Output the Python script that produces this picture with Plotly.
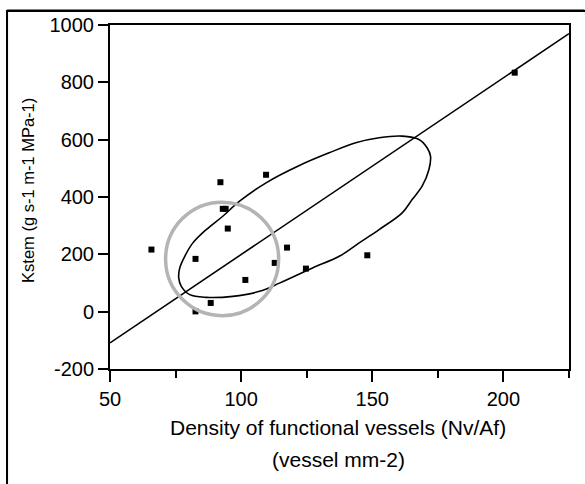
import plotly.graph_objects as go

# --- data ---
density = [65.8, 82.6, 82.6, 88.4, 92.1, 93.0, 94.1, 94.9, 101.6, 109.5, 112.8, 117.5, 124.7, 148.1, 204.3]
kstem = [216.6, 1.0, 184.1, 30.4, 451.6, 358.7, 358.7, 289.9, 110.7, 477.5, 170.1, 223.5, 150.2, 196.7, 833.7]

fit_x = [50, 225]
fit_y = [-109, 970]

# confidence contour (traced)
ell_x = [76.2, 76.6, 78.5, 81.6, 86.7, 93.0, 99.4, 109.5, 122.2, 133.6, 143.7, 152.6, 161.4, 167.8,
         170.9, 172.2, 171.6, 169.0, 165.2, 161.4, 152.6, 145.0, 137.4, 127.2, 114.6, 107.0, 96.8,
         86.7, 80.4, 77.2, 76.2]
ell_y = [117.7, 152.6, 193.2, 240.0, 286.4, 332.9, 385.3, 449.5, 509.9, 554.3, 589.2, 606.7, 612.3, 600.8,
         571.8, 542.4, 496.0, 437.6, 391.2, 344.7, 286.4, 240.0, 193.2, 152.6, 99.6, 70.9, 53.5,
         50.0, 59.4, 88.4, 117.7]

# highlighted group (grey circle), in data units
circle_x = [71.2, 114.3]
circle_y = [-14.0, 381.8]

x_ticks = [50, 100, 150, 200]
x_labels = ["50", "100", "150", "200"]
y_ticks = [-200, 0, 200, 400, 600, 800, 1000]
y_labels = ["-200", "0", "200", "400", "600", "800", "1000"]

FONT = "Arial, Liberation Sans, sans-serif"

fig = go.Figure()
fig.add_trace(go.Scatter(x=fit_x, y=fit_y, mode="lines",
                         line=dict(color="black", width=1.6), hoverinfo="skip"))
fig.add_trace(go.Scatter(x=ell_x, y=ell_y, mode="lines",
                         line=dict(color="black", width=1.6, shape="spline", smoothing=1.0),
                         hoverinfo="skip"))
fig.add_trace(go.Scatter(x=density, y=kstem, mode="markers",
                         marker=dict(symbol="square", size=6, color="black",
                                     line=dict(width=0))))

fig.add_shape(type="circle", xref="x", yref="y",
              x0=circle_x[0], x1=circle_x[1], y0=circle_y[0], y1=circle_y[1],
              line=dict(color="#b4b4b4", width=3.5), layer="above")

# outer frame lines (top and left)
fig.add_shape(type="line", xref="paper", yref="paper", x0=-0.2243, x1=1.034, y0=1.042, y1=1.042,
              line=dict(color="black", width=2))
fig.add_shape(type="line", xref="paper", yref="paper", x0=-0.2243, x1=-0.2243, y0=1.042, y1=-0.333,
              line=dict(color="black", width=2))
# same frame drawn as an (oversized, edge-clipped) annotation box
fig.add_annotation(text=" ", xref="paper", yref="paper", x=-0.2265, y=1.045,
                   xanchor="left", yanchor="top", width=640, height=540, showarrow=False,
                   bordercolor="black", borderwidth=2, borderpad=0)

fig.add_annotation(text="Density of functional vessels (Nv/Af)", xref="paper", yref="paper",
                   x=0.497, y=-0.170, xanchor="center", yanchor="middle", showarrow=False,
                   font=dict(family=FONT, size=21, color="black"))
fig.add_annotation(text="(vessel mm-2)", xref="paper", yref="paper",
                   x=0.497, y=-0.263, xanchor="center", yanchor="middle", showarrow=False,
                   font=dict(family=FONT, size=21, color="black"))
fig.add_annotation(text="Kstem (g s-1 m-1 MPa-1)", xref="paper", yref="paper",
                   x=-0.179, y=0.52, xanchor="center", yanchor="middle", showarrow=False,
                   textangle=-90, font=dict(family=FONT, size=16.5, color="black"))

fig.update_xaxes(range=[50, 225], tickvals=x_ticks, ticktext=x_labels, ticks="outside",
                 ticklen=11, tickwidth=2,
                 tickcolor="black", showline=True, linecolor="black", linewidth=2, mirror=True,
                 showgrid=False, zeroline=False,
                 minor=dict(dtick=25, tick0=50, ticks="outside", ticklen=7, tickwidth=2,
                            tickcolor="black", showgrid=False),
                 tickfont=dict(family=FONT, size=20, color="black"))
fig.update_yaxes(range=[-200, 1000], tickvals=y_ticks, ticktext=y_labels, ticks="outside",
                 ticklen=10, tickwidth=2,
                 tickcolor="black", showline=True, linecolor="black", linewidth=2, mirror=True,
                 showgrid=False, zeroline=False,
                 tickfont=dict(family=FONT, size=20, color="black"))

fig.update_layout(width=585, height=484, autosize=False, showlegend=False,
                  plot_bgcolor="white", paper_bgcolor="white",
                  margin=dict(l=110, r=16, t=25, b=115, pad=0))

fig.write_html("out.html", config={"displayModeBar": False},
               post_script="document.body.style.margin='0';document.body.style.overflow='hidden';")
